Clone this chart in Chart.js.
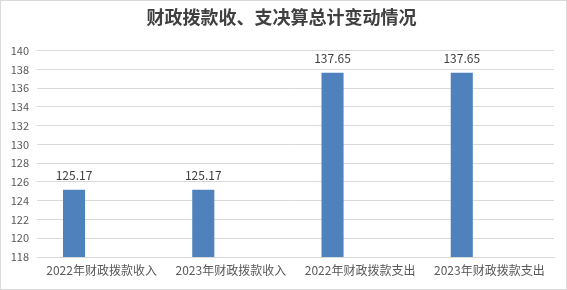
<!DOCTYPE html>
<html>
<head>
<meta charset="utf-8">
<script src="https://cdn.jsdelivr.net/npm/chart.js@4"></script>
<style>
  html, body { margin: 0; padding: 0; background: #fff; }
  .box { width: 565px; height: 288px; border: 1px solid #d9d9d9; position: relative; }
</style>
</head>
<body>
<div class="box"><canvas id="chart"></canvas></div>
<script>
const categories = ['2022年财政拨款收入', '2023年财政拨款收入', '2022年财政拨款支出', '2023年财政拨款支出']
const values = [125.17, 125.17, 137.65, 137.65]
const emptySeries = [null, null, null, null]
const yMin = 118
const yMax = 140
const yStep = 2

const font = "'Microsoft YaHei', 'Noto Sans CJK SC', sans-serif"

// 柱顶数值标签
const valueLabels = {
  id: 'valueLabels',
  afterDatasetsDraw(chart) {
    const { ctx } = chart
    const meta = chart.getDatasetMeta(0)
    ctx.save()
    ctx.font = `12px ${font}`
    ctx.fillStyle = '#404040'
    ctx.textAlign = 'center'
    ctx.textBaseline = 'bottom'
    meta.data.forEach((bar, i) => {
      ctx.fillText(values[i].toFixed(2), bar.x, bar.y - 8)
    })
    ctx.restore()
  }
}

new Chart(document.getElementById('chart').getContext('2d'), {
  type: 'bar',
  data: {
    labels: categories,
    datasets: [
      { data: values, backgroundColor: '#4f81bd', categoryPercentage: 0.854, barPercentage: 0.4 },
      { data: emptySeries, backgroundColor: '#c0504d', categoryPercentage: 0.854, barPercentage: 0.4 }
    ]
  },
  options: {
    responsive: true,
    maintainAspectRatio: false,
    animation: false,
    layout: { padding: { left: 8, right: 12, bottom: 0 } },
    plugins: {
      legend: { display: false },
      tooltip: { enabled: false },
      title: {
        display: true,
        text: '财政拨款收、支决算总计变动情况',
        color: '#404040',
        font: { family: font, size: 18, weight: '600' },
        padding: { top: 5, bottom: 23 }
      }
    },
    scales: {
      x: {
        grid: { display: false, drawTicks: false },
        border: { color: '#d9d9d9' },
        ticks: { color: '#595959', font: { family: font, size: 12 }, padding: 6, maxRotation: 0 },
        afterFit: s => { s.height = 32 }
      },
      y: {
        min: yMin,
        max: yMax,
        grid: { color: '#d9d9d9', drawTicks: false },
        border: { display: false },
        ticks: { stepSize: yStep, color: '#595959', font: { family: font, size: 11 }, padding: 8 },
        afterFit: s => { s.width = 28 }
      }
    }
  },
  plugins: [valueLabels]
})
</script>
</body>
</html>
